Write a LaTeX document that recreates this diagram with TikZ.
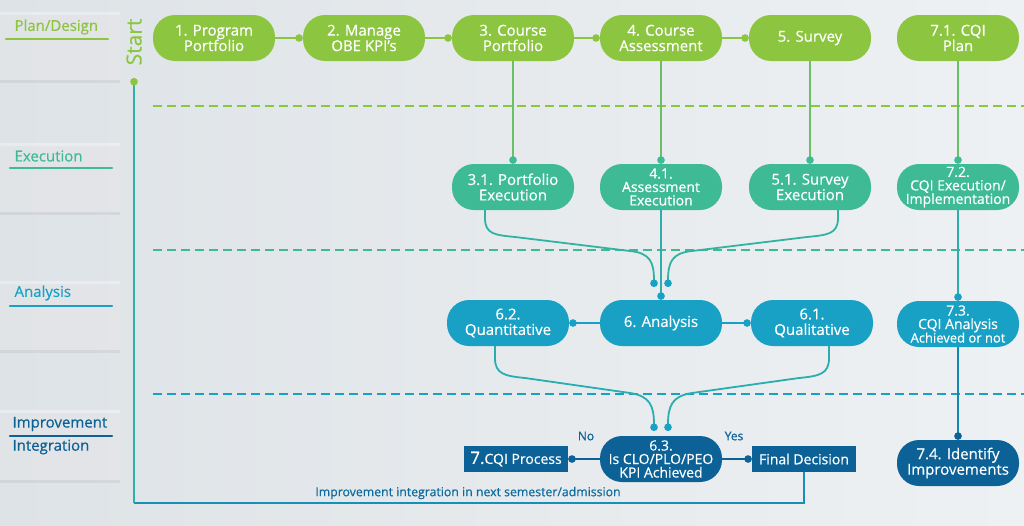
\documentclass[tikz,border=0pt]{standalone}
\usepackage{fontspec}
\setmainfont{Open Sans}[FakeBold=0.5]
\usetikzlibrary{arrows.meta,calc,shadows}
\definecolor{cg}{RGB}{140,197,64}
\definecolor{ct}{RGB}{62,187,148}
\definecolor{cb}{RGB}{24,161,196}
\definecolor{cn}{RGB}{12,98,150}
\definecolor{bgl}{RGB}{222,227,231}
\definecolor{bgr}{RGB}{238,241,243}
\begin{document}
\begin{tikzpicture}[x=1pt,y=-1pt,
  pill/.style={rectangle,rounded corners=22pt,minimum width=122pt,minimum height=46pt,inner sep=1pt,text=white,align=center,font=\fontsize{15}{15.5}\selectfont},
  pillsm/.style={pill,font=\fontsize{14}{13.5}\selectfont},
  rbox/.style={rectangle,fill=cn,minimum width=104pt,minimum height=26pt,inner sep=1pt,text=white,font=\fontsize{14}{14}\selectfont},
  conn/.style={line width=1.8pt},
  dotend/.style={-{Circle[length=7.5pt,width=7.5pt,color=#1]}},
  sep/.style={line width=2.6pt,dash pattern=on 9pt off 5pt},
  lane/.style={anchor=west,font=\fontsize{15}{16}\selectfont},
  uline/.style={line width=2.6pt,line cap=round},
  panel/.style={fill=white,fill opacity=0.35,draw=none,drop shadow={shadow xshift=0pt,shadow yshift=-3pt,opacity=0.12}}
]
\useasboundingbox (0,0) rectangle (1024,525);
\shade[left color=bgl,right color=bgr] (0,0) rectangle (1024,525);
% left panels
\path[panel] (0,12) rectangle (120,80);
\path[panel] (0,143) rectangle (120,212);
\path[panel] (0,281) rectangle (120,350);
\path[panel] (0,410) rectangle (120,480);
\node[lane,text=cg] (l1) at (11,27) {Plan/Design};
\draw[uline,cg] (6,39) -- (108,39);
\node[lane,text=ct] (l2) at (11,156) {Execution};
\draw[uline,ct] (10,168) -- (112,168);
\node[lane,text=cb] (l3) at (11,293) {Analysis};
\draw[uline,cb] (10,306) -- (112,306);
\node[lane,text=cn] (l4) at (9,424) {Improvement};
\draw[uline,cn] (10,436) -- (112,436);
\node[lane,text=cn] (l5) at (9,447) {Integration};
% separators
\draw[sep,cg] (153,106) -- (1024,106);
\draw[sep,ct] (153,250) -- (1024,250);
\draw[sep,cb] (153,394) -- (1024,394);
% start
\node[text=cg,rotate=90,font=\fontsize{21}{22}\selectfont,inner sep=0pt] (start) at (134,42) {Start};
\coordinate (sd) at (134,78);
\coordinate (bot) at (134,503);
% row 1
\node[pill,fill=cg] (n1) at (214,38) {1. Program\\Portfolio};
\node[pill,fill=cg] (n2) at (364,38) {2. Manage\\OBE KPI's};
\node[pill,fill=cg] (n3) at (513,38) {3. Course\\Portfolio};
\node[pill,fill=cg] (n4) at (661,38) {4. Course\\Assessment};
\node[pill,fill=cg] (n5) at (810,38) {5. Survey};
\node[pill,fill=cg] (n71) at (958,38) {7.1. CQI\\Plan};
% row 2
\node[pill,fill=ct] (n31) at (513,187) {3.1. Portfolio\\Execution};
\node[pillsm,fill=ct] (n41) at (661,187) {4.1.\\Assessment\\Execution};
\node[pill,fill=ct] (n51) at (810,187) {5.1. Survey\\Execution};
\node[pillsm,fill=ct] (n72) at (958,187) {7.2.\\CQI Execution/\\Implementation};
% row 3
\node[pill,fill=cb] (n62) at (508,323) {6.2.\\Quantitative};
\node[pill,fill=cb] (n6) at (661,323) {6. Analysis};
\node[pill,fill=cb] (n61) at (812,323) {6.1.\\Qualitative};
\node[pillsm,fill=cb] (n73) at (958,324) {7.3.\\CQI Analysis\\{\fontsize{13}{13}\selectfont Achieved or not}};
% row 4
\node[pillsm,fill=cn] (n63) at (661,459) {6.3.\\Is CLO/PLO/PEO\\KPI Achieved};
\node[rbox] (cqi) at (516,459) {{\fontsize{17}{14}\selectfont 7.}CQI Process};
\node[rbox] (fd) at (804,459) {Final Decision};
\node[pill,fill=cn] (n74) at (958,463) {7.4. Identify\\Improvements};
\node[text=cn,font=\fontsize{12}{13}\selectfont] (no) at (586,436) {No};
\node[text=cn,font=\fontsize{12}{13}\selectfont] (yes) at (734,436) {Yes};
\node[text=cn!85!cb,font=\fontsize{12.3}{13}\selectfont] (impl) at (468,493) {Improvement integration in next semester/admission};
% row 1 connectors
\draw[conn,cg,dotend=cg] (n1.east) -- (n2.west);
\draw[conn,cg,dotend=cg] (n2.east) -- (n3.west);
\draw[conn,cg,dotend=cg] (n3.east) -- (n4.west);
\draw[conn,cg,dotend=cg] (n4.east) -- (n5.west);
% verticals
\draw[conn,cg!55!ct,dotend=ct] (n3.south) -- (n31.north);
\draw[conn,cg!55!ct,dotend=ct] (n4.south) -- (n41.north);
\draw[conn,cg!55!ct,dotend=ct] (n5.south) -- (n51.north);
\draw[conn,cg!55!ct,dotend=ct] (n71.south) -- (n72.north);
\draw[conn,ct!50!cb,dotend=cb] (n41.south) -- (n6.north);
\draw[conn,ct!50!cb,dotend=cb] (n72.south) -- (n73.north);
\draw[conn,cb!60!cn,dotend=cn] (n73.south) -- (n74.north);
% row 3 connectors
\draw[conn,cb,dotend=cb] (n6.west) -- (n62.east);
\draw[conn,cb,dotend=cb] (n6.east) -- (n61.west);
% row 4 connectors
\draw[conn,cn,dotend=cn] (n63.west) -- (cqi.east);
\draw[conn,cn,dotend=cn] (n63.east) -- (fd.west);
% merging curves
\coordinate (c1) at (654,287);
\coordinate (c2) at (668,287);
\coordinate (c3) at (654,431);
\coordinate (c4) at (668,431);
\draw[conn,ct!70!cb,dotend=cb] ([xshift=-28pt]n31.south) -- ++(0,8) .. controls +(0,16) and (495,235) .. (515,237) -- (630,251) .. controls (650,253) and (654,262) .. (c1);
\draw[conn,ct!70!cb,dotend=cb] ([xshift=28pt]n51.south) -- ++(0,8) .. controls +(0,16) and (827,235) .. (807,237) -- (692,251) .. controls (672,253) and (668,262) .. (c2);
\draw[conn,ct!45!cb,dotend=cb] ([xshift=-13pt]n62.south) -- ++(0,12) .. controls +(0,16) and (505,376) .. (525,378) -- (630,393) .. controls (650,396) and (654,406) .. (c3);
\draw[conn,ct!45!cb,dotend=cb] ([xshift=17pt]n61.south) -- ++(0,12) .. controls +(0,16) and (819,376) .. (799,378) -- (692,393) .. controls (672,396) and (668,406) .. (c4);
% return path
\draw[conn,cb!75!cn] (fd.south) |- (bot);
\draw[conn,ct!60!cb,dotend=cg] (bot) -- (sd);
\end{tikzpicture}
\end{document}
